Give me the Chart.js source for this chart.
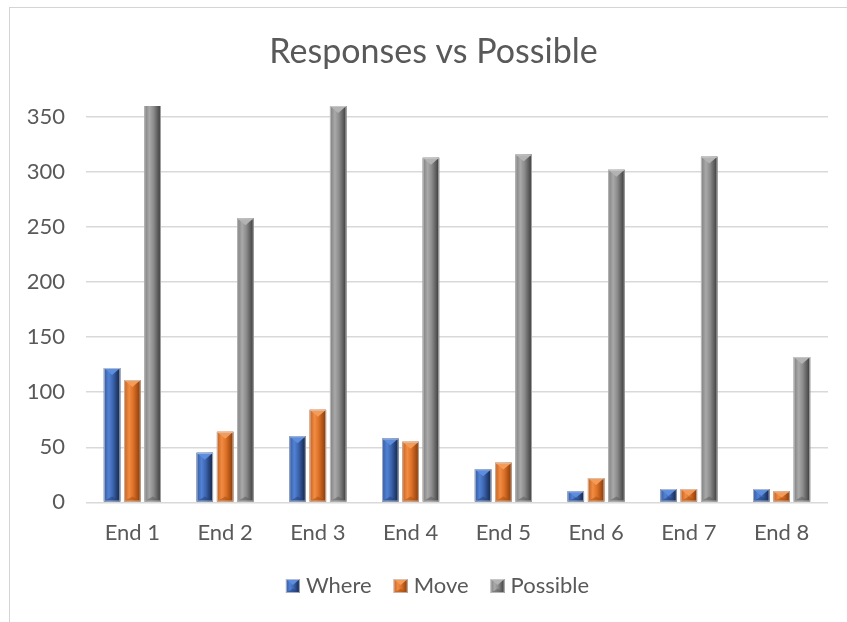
<!DOCTYPE html>
<html>
<head>
<meta charset="utf-8">
<script src="https://cdn.jsdelivr.net/npm/chart.js@4/dist/chart.umd.min.js"></script>
<style>
  html, body { margin: 0; padding: 0; background: #ffffff; width: 847px; height: 622px; overflow: hidden; }
  #frame { position: absolute; left: 9px; top: 7px; width: 850px; height: 620px;
           border-left: 1px solid #d4d4d4; border-top: 1px solid #d4d4d4; }
  #chart { position: absolute; left: 0; top: 0; }
</style>
</head>
<body>
<div id="frame"></div>
<canvas id="chart" width="847" height="622"></canvas>
<script>
// Survey ends and response counts
const categories = ['End 1', 'End 2', 'End 3', 'End 4', 'End 5', 'End 6', 'End 7', 'End 8'];
const whereValues = [122, 45, 60, 58, 30, 10, 12, 12];
const moveValues = [111, 64, 84, 55, 36, 22, 12, 10];
const possibleValues = [380, 258, 360, 313, 316, 302, 314, 132];
const seriesNames = ['Where', 'Move', 'Possible'];

// Value axis range
const axisMin = 0;
const axisMax = 360;
const axisStep = 50;

const FONT = 'Lato, "Open Sans", sans-serif';
const TEXT = '#595959';
const LABEL_SIZE = 22;
const SWATCH = 14;

// Bevelled column shading: base fill plus a horizontal gradient and a pyramid cap
const shades = [
  { base: '#3f68b5', stops: ['#34599f', '#5282d4', '#3d65b0', '#1e3766', '#172b52'], cap: '#5d8ddf', foot: '#24427a' },
  { base: '#e0732a', stops: ['#c4601f', '#f28c43', '#dd7128', '#a34b12', '#7f390b'], cap: '#f59b58', foot: '#a8500f' },
  { base: '#8f8f8f', stops: ['#7e7e7e', '#a9a9a9', '#8c8c8c', '#555555', '#333333'], cap: '#b3b3b3', foot: '#5c5c5c' }
];

function paintColumn(ctx, l, t, r, b, shade) {
  const w = r - l;
  const g = ctx.createLinearGradient(l, 0, r, 0);
  g.addColorStop(0, shade.stops[0]);
  g.addColorStop(0.3, shade.stops[1]);
  g.addColorStop(0.55, shade.stops[2]);
  g.addColorStop(0.85, shade.stops[3]);
  g.addColorStop(1, shade.stops[4]);
  ctx.fillStyle = g;
  ctx.fillRect(l, t, w, b - t);

  const depth = Math.min(w * 0.42, (b - t) * 0.6);
  // top cap
  ctx.beginPath();
  ctx.moveTo(l, t);
  ctx.lineTo(r, t);
  ctx.lineTo((l + r) / 2, t + depth);
  ctx.closePath();
  ctx.fillStyle = shade.cap;
  ctx.fill();
  // bottom facet
  ctx.beginPath();
  ctx.moveTo(l, b);
  ctx.lineTo(r, b);
  ctx.lineTo((l + r) / 2, b - Math.min(w * 0.3, (b - t) * 0.4));
  ctx.closePath();
  ctx.fillStyle = shade.foot;
  ctx.globalAlpha = 0.55;
  ctx.fill();
  ctx.globalAlpha = 1;
  // thin light rim
  ctx.strokeStyle = 'rgba(205,205,205,0.75)';
  ctx.lineWidth = 1;
  ctx.strokeRect(l + 0.5, t + 0.5, w - 1, b - t - 1);
}

const bevelPlugin = {
  id: 'bevelColumns',
  afterLayout(chart) {
    // centre the title and legend over the framed card rather than the canvas
    if (chart.titleBlock) chart.titleBlock.left = 39;
    if (chart.legend) chart.legend.left = 47;
  },
  afterDatasetsDraw(chart) {
    const { ctx, chartArea: a } = chart;
    ctx.save();
    ctx.beginPath();
    ctx.rect(a.left, a.top, a.right - a.left, a.bottom - a.top);
    ctx.clip();
    chart.data.datasets.forEach((ds, di) => {
      const meta = chart.getDatasetMeta(di);
      if (meta.hidden) return;
      meta.data.forEach(bar => {
        const p = bar.getProps(['x', 'y', 'base', 'width'], true);
        const l = p.x - p.width / 2, r = p.x + p.width / 2;
        const t = Math.min(p.y, p.base), b = Math.max(p.y, p.base);
        paintColumn(ctx, l, t, r, b, shades[di]);
      });
    });
    ctx.restore();
  },
  afterDraw(chart) {
    const legend = chart.legend;
    if (!legend || !legend.legendHitBoxes) return;
    const ctx = chart.ctx;
    ctx.save();
    legend.legendHitBoxes.forEach((hb, i) => {
      const top = hb.top + (LABEL_SIZE - SWATCH) / 2;
      paintColumn(ctx, hb.left, top, hb.left + SWATCH, top + SWATCH, shades[i]);
    });
    ctx.restore();
  }
};

const seriesValues = [whereValues, moveValues, possibleValues];

new Chart(document.getElementById('chart'), {
  type: 'bar',
  data: {
    labels: categories,
    datasets: seriesNames.map((name, i) => ({
      label: name,
      data: seriesValues[i],
      backgroundColor: shades[i].base,
      borderWidth: 0,
      categoryPercentage: 0.657,
      barPercentage: 0.81
    }))
  },
  options: {
    responsive: false,
    animation: false,
    devicePixelRatio: 1,
    layout: { padding: { left: 0, right: 19, top: 0, bottom: 15 } },
    plugins: {
      title: {
        display: true,
        text: 'Responses vs Possible',
        color: TEXT,
        font: { family: FONT, size: 34, weight: 'normal', lineHeight: 1.2 },
        padding: { top: 32.1, bottom: 33.1 }
      },
      legend: {
        position: 'bottom',
        labels: {
          color: TEXT,
          font: { family: FONT, size: LABEL_SIZE },
          boxWidth: 9,
          boxHeight: SWATCH,
          padding: 22,
          // the swatch itself is painted by bevelColumns
          generateLabels(chart) {
            return Chart.defaults.plugins.legend.labels.generateLabels(chart).map(item => ({
              ...item, fillStyle: 'rgba(0,0,0,0)', strokeStyle: 'rgba(0,0,0,0)', lineWidth: 0
            }));
          }
        }
      },
      tooltip: { enabled: false }
    },
    scales: {
      x: {
        grid: { display: false, drawTicks: false },
        border: { display: false },
        ticks: {
          color: TEXT,
          font: { family: FONT, size: LABEL_SIZE, lineHeight: 1.2 },
          padding: 17.5,
          maxRotation: 0
        },
        afterFit(scale) { scale.height = 50.7; }
      },
      y: {
        min: axisMin,
        max: axisMax,
        border: { display: false },
        grid: { color: '#d9d9d9', lineWidth: 1.5, drawTicks: false },
        ticks: {
          stepSize: axisStep,
          includeBounds: false,
          color: TEXT,
          font: { family: FONT, size: LABEL_SIZE },
          padding: 21
        },
        afterFit(scale) { scale.width = 86; }
      }
    }
  },
  plugins: [bevelPlugin]
});
</script>
</body>
</html>
